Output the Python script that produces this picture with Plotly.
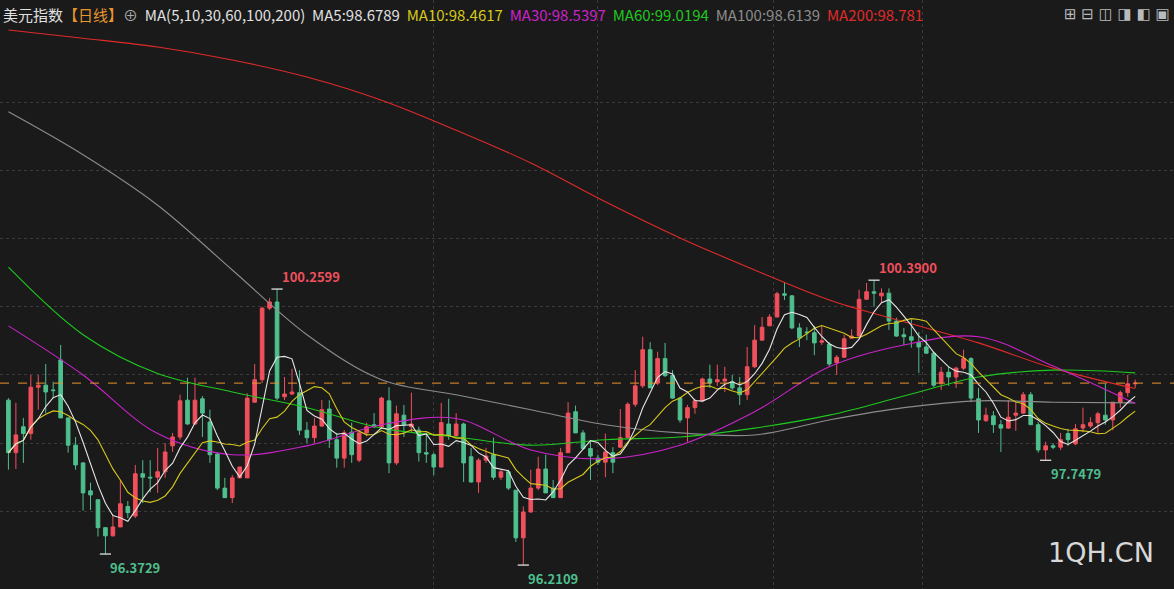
import plotly.graph_objects as go
import pandas as pd

opens = [98.63,97.86,98.24,98.14,98.82,98.85,98.78,99.22,98.37,97.97,97.71,97.30,97.17,96.76,96.64,96.77,97.07,96.93,97.55,97.50,
97.50,97.58,97.96,98.09,98.63,98.28,98.65,98.31,97.84,97.34,97.20,97.49,97.49,98.60,98.93,99.98,100.07,98.68,98.72,98.74,
98.19,98.08,98.25,98.50,98.05,97.78,98.16,97.75,98.15,98.27,98.24,98.62,97.71,98.41,98.24,98.19,97.86,97.83,97.65,98.28,
98.11,98.28,97.80,97.43,97.75,97.83,97.50,97.58,97.31,96.61,96.99,97.34,97.62,97.34,97.20,97.86,98.46,98.15,97.92,97.78,
97.72,97.86,97.94,98.08,98.57,98.84,99.37,98.88,99.24,98.99,98.66,98.37,98.52,98.62,98.94,98.90,98.91,98.90,98.81,98.71,
99.12,99.51,99.72,99.85,100.19,100.16,99.69,99.63,99.62,99.48,99.45,99.18,99.26,99.54,99.57,100.11,100.22,100.16,100.20,99.79,
99.59,99.56,99.48,99.41,99.32,98.88,99.04,98.97,99.10,99.24,98.65,98.33,98.40,98.27,98.22,98.41,98.44,98.71,98.27,97.90,
97.96,97.94,98.14,97.99,98.22,98.25,98.30,98.41,98.34,98.60,98.74,98.87]
highs = [98.66,98.59,98.37,99.00,99.00,99.16,98.90,99.44,98.37,98.09,97.72,97.42,97.17,96.76,96.95,97.46,97.15,97.68,97.75,97.75,
97.93,98.00,98.15,98.71,98.96,98.96,98.69,98.49,97.86,97.49,97.53,97.65,98.73,99.16,100.00,100.13,100.26,98.97,99.09,99.07,
98.31,98.37,98.63,98.63,98.15,98.19,98.30,98.17,98.30,98.44,98.68,98.82,98.55,98.56,98.74,98.24,98.15,97.86,98.59,98.65,
98.44,98.30,97.93,97.78,97.93,98.08,97.61,97.61,97.31,97.07,97.61,97.80,97.83,97.46,97.93,98.60,98.55,98.19,98.02,97.83,
98.14,97.94,98.50,98.60,99.07,99.56,99.48,99.34,99.47,99.07,98.68,98.56,98.65,98.96,99.15,99.15,99.12,99.00,98.97,99.41,
99.73,99.85,99.89,100.22,100.36,100.17,99.76,99.70,99.72,99.72,99.48,99.29,99.59,99.67,100.25,100.35,100.39,100.27,100.27,99.84,
99.69,99.81,99.63,99.59,99.34,99.12,99.12,99.12,99.37,99.26,98.81,98.52,98.47,98.34,98.63,98.60,98.75,98.75,98.31,98.02,
98.00,98.15,98.21,98.28,98.52,98.38,98.46,98.87,98.60,98.77,99.00,98.93]
lows = [97.61,97.62,97.71,98.05,98.49,98.44,98.66,98.37,97.86,97.61,97.01,97.02,96.63,96.37,96.63,96.77,96.90,96.90,97.12,97.28,
97.27,97.49,97.87,98.05,98.27,98.27,98.09,97.71,97.31,97.20,97.12,97.49,97.49,98.59,98.88,99.95,98.63,98.63,98.71,98.12,
98.00,98.00,98.24,97.93,97.64,97.64,97.71,97.72,98.10,98.22,98.22,97.56,97.68,98.09,98.15,97.73,97.71,97.53,97.64,98.05,
98.09,97.43,97.42,97.27,97.71,97.46,97.46,97.31,96.55,96.21,96.98,97.31,97.27,97.20,97.20,97.86,98.15,97.90,97.46,97.68,
97.50,97.56,97.93,98.07,98.53,98.81,98.81,98.85,98.97,98.65,98.30,98.02,98.43,98.60,98.81,98.84,98.75,98.78,98.56,98.63,
99.10,99.51,99.72,99.85,100.10,99.67,99.41,99.51,99.29,99.44,99.12,99.00,99.25,99.53,99.56,100.10,100.00,100.06,99.66,99.56,
99.44,99.40,99.03,99.31,98.82,98.78,98.84,98.81,99.07,98.60,98.15,98.31,98.15,97.87,98.21,98.18,98.43,98.27,97.86,97.75,
97.91,97.90,97.96,97.97,98.16,98.22,98.15,98.27,98.19,98.52,98.68,98.81]
closes = [97.86,98.12,98.14,98.82,98.85,98.75,98.77,98.37,97.97,97.68,97.27,97.24,96.76,96.64,96.77,97.11,96.98,97.55,97.50,97.49,
97.58,97.87,98.09,98.62,98.28,98.63,98.44,97.83,97.34,97.20,97.49,97.65,98.66,98.93,99.98,100.07,98.66,98.72,98.75,98.19,
98.08,98.25,98.49,98.05,97.78,98.15,97.83,98.15,98.24,98.24,98.66,97.71,98.43,98.27,98.28,97.86,97.84,97.65,98.30,98.11,
98.28,97.71,97.43,97.75,97.81,97.50,97.58,97.34,96.61,96.99,97.34,97.62,97.27,97.20,97.86,98.44,98.15,97.92,97.81,97.72,
97.87,97.72,98.08,98.57,98.84,99.37,98.81,99.24,98.99,98.66,98.34,98.52,98.62,98.94,98.88,98.93,98.94,98.81,98.71,99.12,
99.51,99.70,99.85,100.19,100.17,99.69,99.54,99.62,99.47,99.50,99.16,99.26,99.53,99.57,100.11,100.22,100.20,100.20,99.79,99.57,
99.56,99.51,99.41,99.32,98.85,99.04,98.97,99.10,99.24,98.66,98.34,98.41,98.27,98.22,98.38,98.44,98.71,98.27,97.90,97.96,
97.94,98.05,98.05,98.21,98.27,98.30,98.43,98.34,98.60,98.74,98.87,98.88]

ma_idx = [0,10,20,30,40,50,60,70,80,90,100,110,120,130,140,151]
ma30 = [99.72,99.00,98.14,97.83,97.96,98.27,98.36,97.90,97.77,97.97,98.46,99.12,99.44,99.56,99.13,98.58]
ma60 = [100.58,99.59,99.02,98.75,98.52,98.22,98.09,97.97,98.05,98.09,98.22,98.41,98.69,98.97,99.07,99.03]
ma100 = [102.86,102.23,101.49,100.54,99.59,98.93,98.71,98.49,98.27,98.15,98.12,98.34,98.52,98.62,98.60,98.59]
ma200 = [104.06,103.94,103.81,103.62,103.37,103.03,102.59,102.11,101.54,101.01,100.54,100.10,99.78,99.47,99.10,98.80]

hi_lo = [(36, 100.2599, "100.2599", "high"), (116, 100.3900, "100.3900", "high"),
         (13, 96.3729, "96.3729", "low"), (69, 96.2109, "96.2109", "low"), (139, 97.7479, "97.7479", "low")]

idx = list(range(len(closes)))
s = pd.Series(closes)
ma5 = s.rolling(5, min_periods=1).mean()
ma10 = s.rolling(10, min_periods=1).mean()

RED = "#f0505c"
GREEN = "#4fbf8e"
fig = go.Figure()
fig.add_trace(go.Candlestick(x=idx, open=opens, high=highs, low=lows, close=closes,
    increasing=dict(line=dict(color=RED, width=1), fillcolor=RED),
    decreasing=dict(line=dict(color=GREEN, width=1), fillcolor=GREEN),
    whiskerwidth=0, hoverinfo="skip"))

def line(x, y, c, spline=False):
    fig.add_trace(go.Scatter(x=x, y=y, mode="lines",
        line=dict(color=c, width=1.1, shape="spline" if spline else "linear"), hoverinfo="skip"))

line(ma_idx, ma200, "#e02a2a", True)
line(ma_idx, ma100, "#8c8c8c", True)
line(ma_idx, ma60, "#1fc81f", True)
line(ma_idx, ma30, "#cc22cc", True)
line(idx, ma10, "#d6c81c")
line(idx, ma5, "#e6e6e6")

fig.add_hline(y=closes[-1], line=dict(color="#e8952e", width=1, dash="dash"))

for i, v, t, kind in hi_lo:
    fig.add_trace(go.Scatter(x=[i], y=[v], mode="markers",
        marker=dict(symbol="line-ew", size=8, line=dict(color="#e0e0e0", width=1.3)), hoverinfo="skip"))
    fig.add_annotation(x=i, y=v, text="<b>%s</b>" % t, showarrow=False, xanchor="left",
        yanchor="bottom" if kind == "high" else "top", xshift=3,
        yshift=1 if kind == "high" else -2,
        font=dict(color=RED if kind == "high" else GREEN, size=13, family="Noto Sans CJK SC"))

legend = ('<span style="color:#e0e0e0">美元指数</span><span style="color:#e8952e">【日线】</span>'
          '<span style="color:#aaaaaa">⊕</span>  '
          '<span style="color:#e0e0e0">MA(5,10,30,60,100,200)  MA5:98.6789</span>  '
          '<span style="color:#d6c81c">MA10:98.4617</span>  '
          '<span style="color:#cc22cc">MA30:98.5397</span>  '
          '<span style="color:#1fc81f">MA60:99.0194</span>  '
          '<span style="color:#8c8c8c">MA100:98.6139</span>  '
          '<span style="color:#e02a2a">MA200:98.781</span>')
fig.add_annotation(xref="paper", yref="paper", x=0.001, y=0.997, xanchor="left", yanchor="top",
    text=legend, showarrow=False, font=dict(size=15, family="Noto Sans CJK SC"))
fig.add_annotation(xref="paper", yref="paper", x=0.985, y=0.062, xanchor="right", yanchor="middle",
    text="1QH.CN", showarrow=False, font=dict(size=27, color="#d8d8d8", family="DejaVu Sans"))
fig.add_annotation(xref="paper", yref="paper", x=0.998, y=0.995, xanchor="right", yanchor="top",
    text="⊞ ⊟ ◫ ◨ ◧ ▣", showarrow=False, font=dict(size=15, color="#bbbbbb", family="DejaVu Sans"))

fig.update_layout(width=1174, height=589, margin=dict(l=0, r=0, t=0, b=0),
    paper_bgcolor="#1a1a1a", plot_bgcolor="#1a1a1a", showlegend=False,
    xaxis=dict(range=[-1.13, 156.2], rangeslider=dict(visible=False), showticklabels=False,
               tickvals=[57, 79, 102.5, 122.5], showgrid=True, gridcolor="#3a3a3a", griddash="dot",
               zeroline=False, showline=False),
    yaxis=dict(range=[95.86, 104.50], showticklabels=False, tickvals=[97, 98, 99, 100, 101, 102, 103],
               showgrid=True, gridcolor="#3a3a3a", griddash="dot", zeroline=False))
fig.write_html("out.html", config={"displayModeBar": False},
               post_script="document.body.style.margin='0';document.body.style.background='#1a1a1a';")
